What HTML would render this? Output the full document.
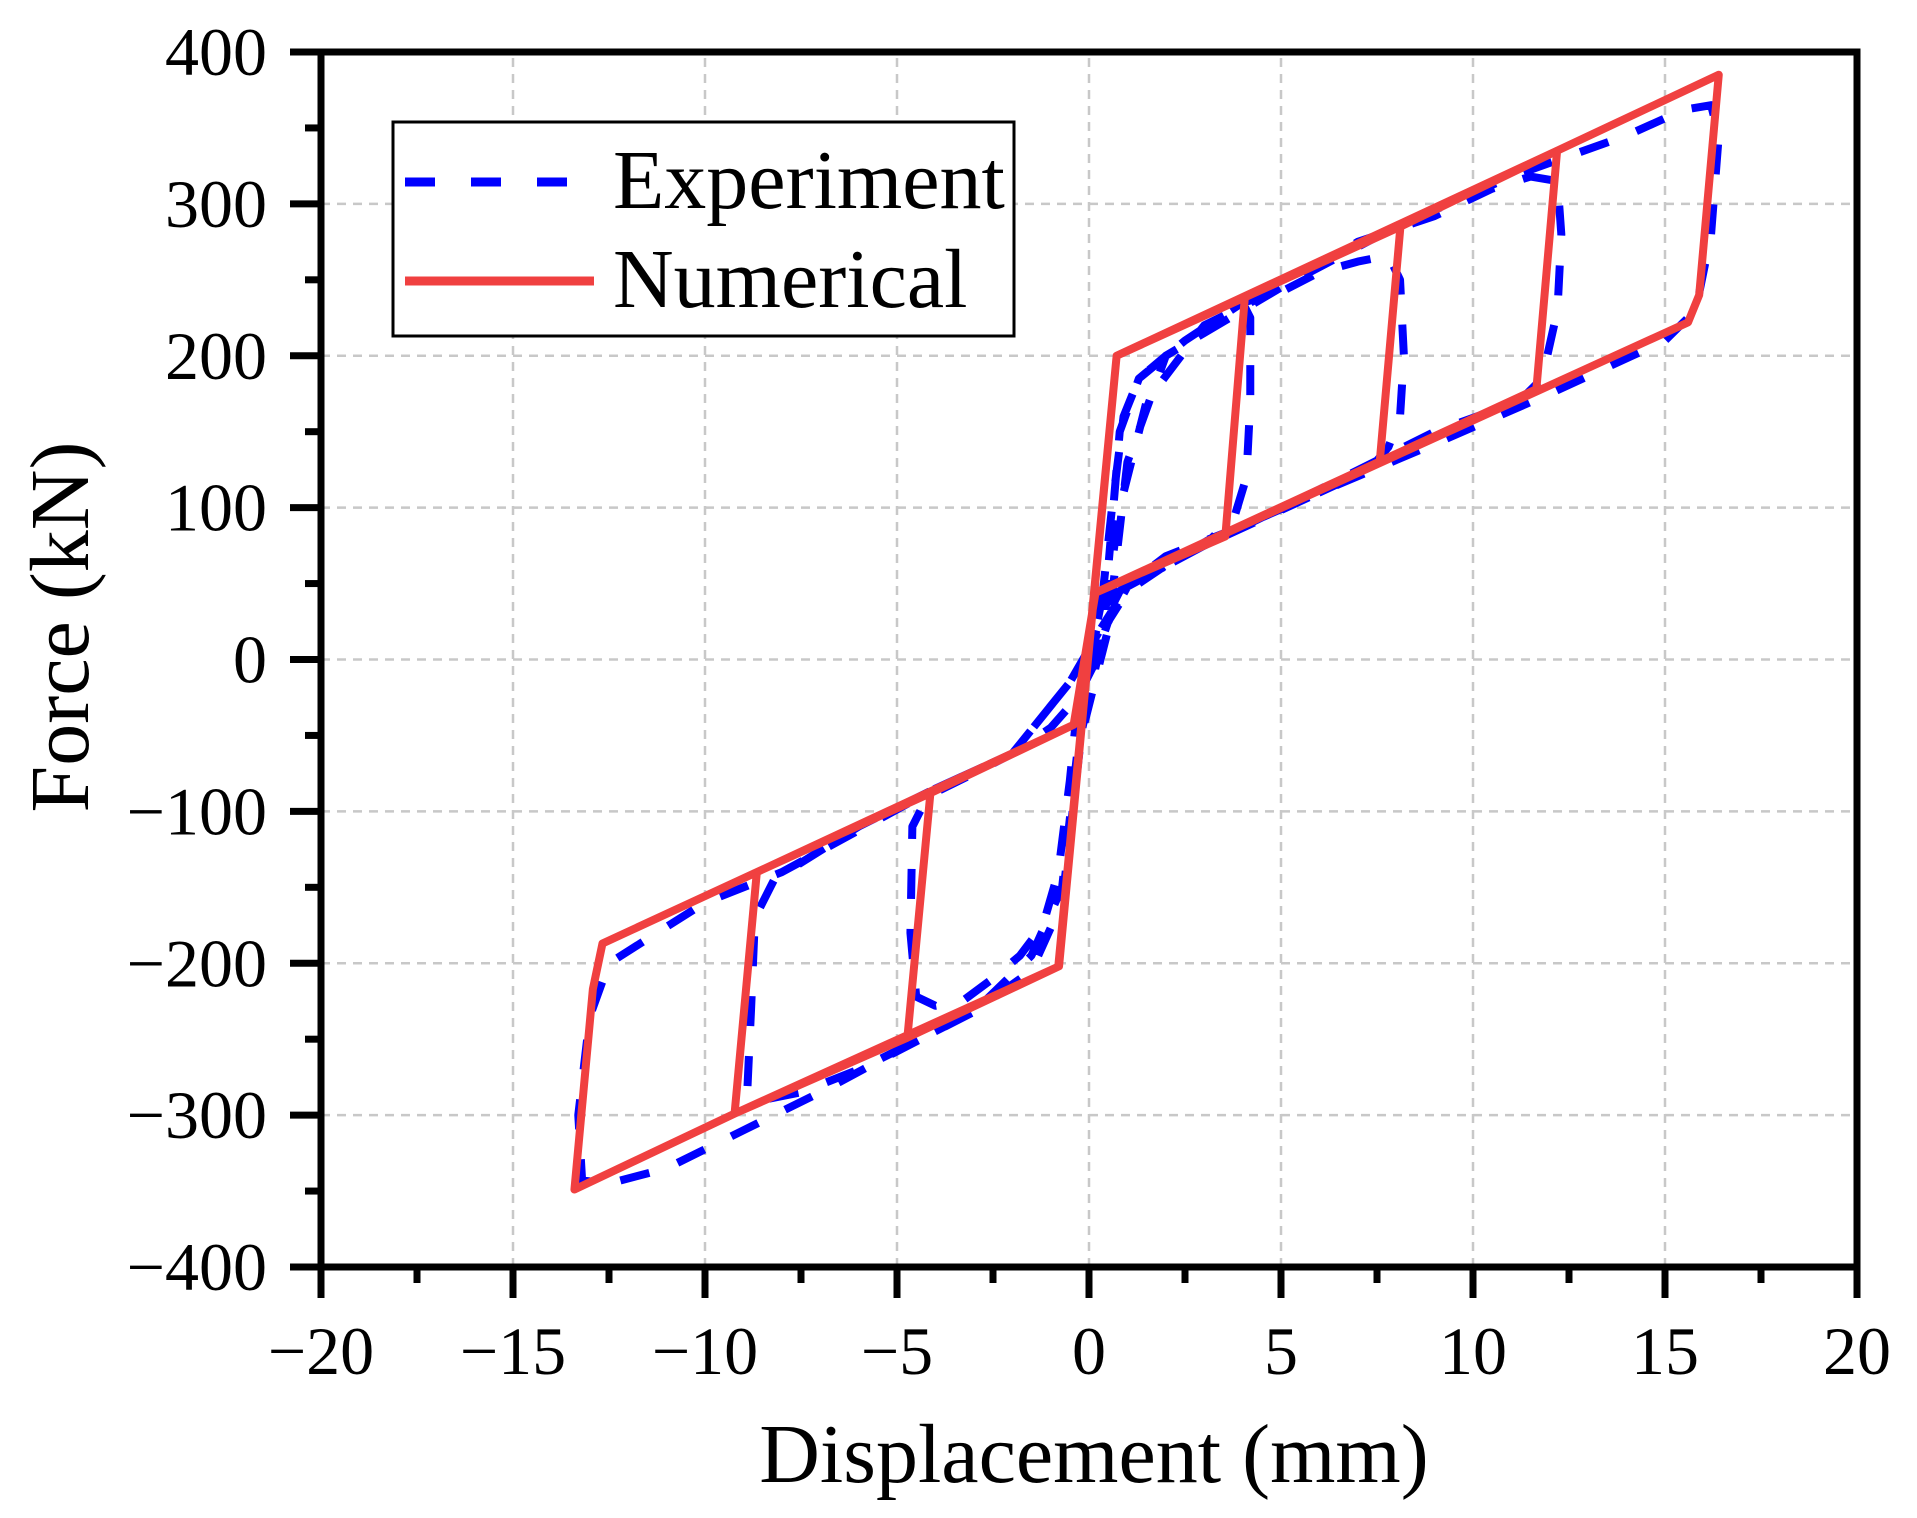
<!DOCTYPE html>
<html><head><meta charset="utf-8"><style>
html,body{margin:0;padding:0;background:#fff;}
svg{display:block;font-family:"Liberation Serif",serif;}
</style></head><body>
<svg id="chart" width="1917" height="1518" viewBox="0 0 1917 1518">
<g id="grid"></g>
<g id="series"></g>
<g id="axes"></g>
<text x="1094" y="1482" font-size="84" text-anchor="middle">Displacement (mm)</text>
<text transform="translate(88,627) rotate(-90)" font-size="84" text-anchor="middle">Force (kN)</text>
<g>
<rect x="393" y="122" width="621" height="214" fill="#fff" stroke="#000" stroke-width="3"/>
<line x1="405" y1="182" x2="594" y2="182" stroke="#0000ff" stroke-width="9" stroke-dasharray="30,36"/>
<text x="613" y="208" font-size="84">Experiment</text>
<line x1="405" y1="281" x2="594" y2="281" stroke="#f04040" stroke-width="9"/>
<text x="613" y="307" font-size="84">Numerical</text>
</g>
</svg>
<script>
const xTicks=[-20,-15,-10,-5,0,5,10,15,20];
const yTicks=[-400,-300,-200,-100,0,100,200,300,400];
const numX=[-0.8,0.72,4.06,3.55,0.17,-0.4,-4.13,-4.73,-0.78,0.72,4.06,8.11,7.57,0.17,-0.4,-4.13,-8.65,-9.23,-4.73,-0.78,0.72,8.11,12.19,11.65,0.17,-0.4,-8.65,-12.67,-12.92,-13.4,-9.23,-0.78,0.72,12.19,16.4,15.89,15.6,0.17];
const numY=[-202,200,239,81,44,-43,-88,-249,-202,200,239,285,130,44,-43,-88,-140,-299,-249,-202,200,285,335,178,44,-43,-140,-187,-217,-349,-299,-202,200,335,385,240,222,44];
const expX=[0,0.3,0.6,0.9,1.3,2,3,4,4.2,4.2,4.1,3.8,3.2,2,1,0.5,0.1,-0.3,-1,-2,-3,-4.2,-4.6,-4.65,-4.5,-4,-3.3,-2.5,-1.8,-1.2,-0.8,-0.5,-0.3,0.1,0.5,0.8,1.3,2.5,4,5,6,7,7.8,8.1,8.2,8.1,7.8,7.3,6,4,2,0.8,0.3,-0.5,-2,-4,-6,-8.2,-8.7,-8.8,-8.9,-8.5,-7.5,-6,-4.8,-3,-1.5,-0.7,-0.3,0.3,0.8,1.5,3,5,7,9,10.5,11.5,12.2,12.3,12.2,11.8,11.2,9,6,3,1,0.3,-0.5,-2,-4,-8,-10,-12.5,-13,-13.3,-13.2,-12.5,-11,-9,-7,-5,-3,-1.5,-0.7,-0.2,0.5,1,2,5,8,11,14,15.5,16.2,16.4,16.2,15.8,15,12,9,6,3,1,0.4];
const expY=[0,30,100,160,185,200,215,235,225,170,120,95,80,62,45,25,-5,-25,-45,-62,-75,-90,-110,-180,-222,-228,-225,-210,-195,-175,-140,-80,-30,10,60,150,185,210,235,242,255,262,266,250,200,160,140,125,110,88,68,45,20,-15,-62,-85,-110,-145,-170,-230,-285,-290,-285,-270,-255,-232,-195,-150,-60,10,100,170,220,245,275,292,310,318,315,280,230,185,170,150,112,75,48,20,-15,-62,-85,-140,-160,-200,-235,-300,-343,-345,-335,-310,-285,-258,-232,-205,-160,-50,20,130,200,245,285,318,345,362,365,345,280,230,210,175,142,110,75,48,20];
const X0=321,X1=1857,Y0=1267,Y1=52;
function sx(v){return X0+(v+20)/40*(X1-X0);}
function sy(v){return Y0-(v+400)/800*(Y0-Y1);}
const NS="http://www.w3.org/2000/svg";
function mk(tag,attrs,parent){const e=document.createElementNS(NS,tag);for(const k in attrs)e.setAttribute(k,attrs[k]);parent.appendChild(e);return e;}
const grid=document.getElementById('grid'),axes=document.getElementById('axes'),series=document.getElementById('series');
xTicks.forEach(t=>{
 if(t>-20&&t<20){const g=mk('line',{x1:sx(t),x2:sx(t),y1:Y0,y2:Y1,stroke:'#c8c8c8','stroke-width':2.5,'stroke-dasharray':'9,7'},grid);
 
 }
 const tk=mk('line',{x1:sx(t),x2:sx(t),y1:Y0,y2:Y0+31,stroke:'#000','stroke-width':7},axes);
 
 
 const lb=mk('text',{x:sx(t),y:1374,'font-size':68,'text-anchor':'middle'},axes);
 lb.textContent=(t<0?'\u2212':'')+Math.abs(t);
 
 
 if(t<20){const m=mk('line',{x1:sx(t+2.5),x2:sx(t+2.5),y1:Y0,y2:Y0+16,stroke:'#000','stroke-width':7},axes);
 
 }
});
yTicks.forEach(t=>{
 if(t>-400&&t<400){const g=mk('line',{x1:X0,x2:X1,y1:sy(t),y2:sy(t),stroke:'#c8c8c8','stroke-width':2.5,'stroke-dasharray':'9,7'},grid);
 
 }
 const tk=mk('line',{x1:X0-31,x2:X0,y1:sy(t),y2:sy(t),stroke:'#000','stroke-width':7},axes);
 
 
 const lb=mk('text',{x:267,y:sy(t)+23,'font-size':68,'text-anchor':'end'},axes);
 lb.textContent=(t<0?'\u2212':'')+Math.abs(t);
 
 
 if(t<400){const m=mk('line',{x1:X0-16,x2:X0,y1:sy(t+50),y2:sy(t+50),stroke:'#000','stroke-width':7},axes);
 
 }
});
const fr=mk('rect',{x:X0,y:Y1,width:X1-X0,height:Y0-Y1,fill:'none',stroke:'#000','stroke-width':7},axes);


const ep=mk('polyline',{points:expX.map((v,i)=>sx(v)+','+sy(expY[i])).join(' '),fill:'none',stroke:'#0000ff','stroke-width':8,'stroke-dasharray':'30,30','stroke-linejoin':'round'},series);


const np=mk('polyline',{points:numX.map((v,i)=>sx(v)+','+sy(numY[i])).join(' '),fill:'none',stroke:'#f04040','stroke-width':8,'stroke-linejoin':'round'},series);


</script>
</body></html>
